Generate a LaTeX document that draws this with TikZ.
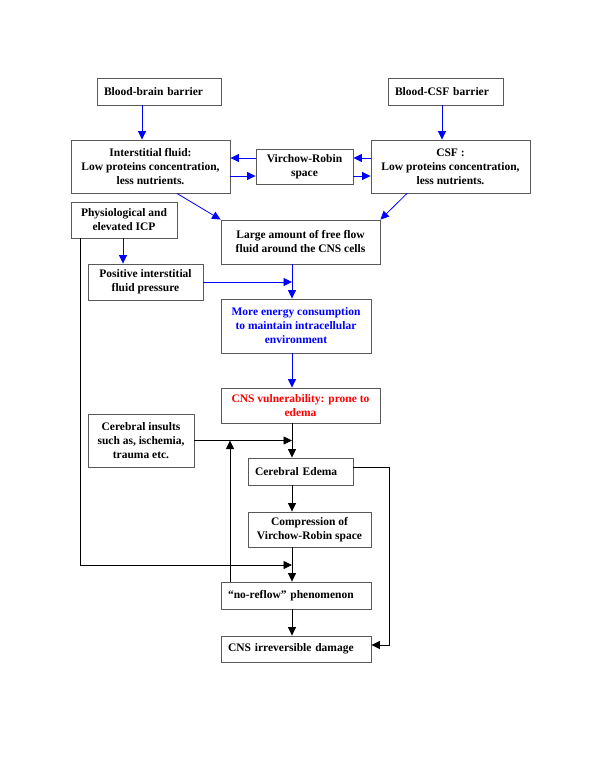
\documentclass[tikz,border=0pt]{standalone}
\usepackage{fontspec}
\setmainfont{Liberation Serif}
\usetikzlibrary{arrows.meta}
\begin{document}
\begin{tikzpicture}[x=1pt,y=-1pt,
    box/.style={draw=black!65, line width=0.9pt, align=center, inner sep=2pt,
        font=\fontsize{11.5}{14}\selectfont\bfseries},
    lbox/.style={box, align=left, inner xsep=7pt},
    arr/.style={-{Triangle[length=8.5pt,width=8pt]}, line width=0.8pt},
    barr/.style={arr, blue}]
\useasboundingbox (0,0) rectangle (600,777);

% barriers and fluids
\node[lbox, text width=110pt, minimum height=27pt] (bbb) at (159,91.5) {Blood-brain barrier};
\node[lbox, text width=101pt, minimum height=27pt] (bcsf) at (445.5,91.5) {Blood-CSF barrier};
\node[box, minimum width=159pt, minimum height=53pt] (isf) at (150.5,166.5)
    {Interstitial fluid:\\Low proteins concentration,\\less nutrients.};
\node[box, minimum width=97pt, minimum height=35pt] (vrs) at (304.5,166.5) {Virchow-Robin\\space};
\node[box, minimum width=159pt, minimum height=53pt] (csf) at (450.5,166.5)
    {CSF :\\Low proteins concentration,\\less nutrients.};
\node[box, minimum width=106pt, minimum height=36pt] (phys) at (124,220) {Physiological and\\elevated ICP};
\node[box, minimum width=159pt, minimum height=44pt] (large) at (300.5,242)
    {Large amount of free flow\\fluid around the CNS cells};
\node[box, minimum width=115pt, minimum height=36pt] (pos) at (145.5,282) {Positive interstitial\\fluid pressure};
\node[box, minimum width=150pt, minimum height=54pt, text=blue] (energy) at (296,326)
    {More energy consumption\\to maintain intracellular\\environment};
\node[box, minimum width=159pt, minimum height=35pt, text=red] (cnsv) at (300.5,405.5)
    {CNS vulnerability: prone to\\edema};
\node[box, minimum width=106pt, minimum height=53pt] (insult) at (141,440.5)
    {Cerebral insults\\such as, ischemia,\\trauma etc.};

% edema chain
\node[lbox, text width=91pt, minimum height=27pt] (edema) at (300.5,471.5) {Cerebral Edema};
\node[box, minimum width=123pt, minimum height=35pt] (comp) at (309.5,529.5)
    {Compression of\\Virchow-Robin space};
\node[lbox, text width=136pt, minimum height=27pt] (noreflow) at (296,595.5) {``no-reflow'' phenomenon};
\node[lbox, text width=136pt, minimum height=26pt] (damage) at (296,649) {CNS irreversible damage};

\coordinate (trunk) at (292,0);
\coordinate (loopl) at (80,565);
\coordinate (loopr) at (389,467);

\draw[barr] (bbb.south -| 142,0) -- (isf.north -| 142,0);
\draw[barr] (bcsf.south -| 442,0) -- (csf.north -| 442,0);
\draw[barr] (vrs.west |- 0,158) -- (isf.east |- 0,158);
\draw[barr] (isf.east |- 0,176) -- (vrs.west |- 0,176);
\draw[barr] (csf.west |- 0,158) -- (vrs.east |- 0,158);
\draw[barr] (vrs.east |- 0,176) -- (csf.west |- 0,176);
\draw[barr] (isf.south -| 177,0) -- (large.north west);
\draw[barr] (csf.south -| 407,0) -- (large.north east);
\draw[barr] (phys.south -| 123,0) -- (pos.north -| 123,0);
\draw[barr] (large.south -| trunk) -- (energy.north -| trunk);
\draw[barr] (pos.east) -- (pos.east -| trunk);
\draw[barr] (energy.south -| trunk) -- (cnsv.north -| trunk);

\draw[arr] (cnsv.south -| trunk) -- (edema.north -| trunk);
\draw[arr] (insult.east) -- (insult.east -| trunk);
\draw[arr] (edema.south -| trunk) -- (comp.north -| trunk);
\draw[arr] (comp.south -| trunk) -- (noreflow.north -| trunk);
\draw[arr] (phys.south -| loopl) -- (loopl) -- (loopl -| trunk);
\draw[arr] (noreflow.north -| 230,0) -- (insult.east -| 230,0);
\draw[arr] (edema.east |- loopr) -- (loopr) |- (damage.east |- 0,645);
\draw[arr] (noreflow.south -| trunk) -- (damage.north -| trunk);
\end{tikzpicture}
\end{document}
